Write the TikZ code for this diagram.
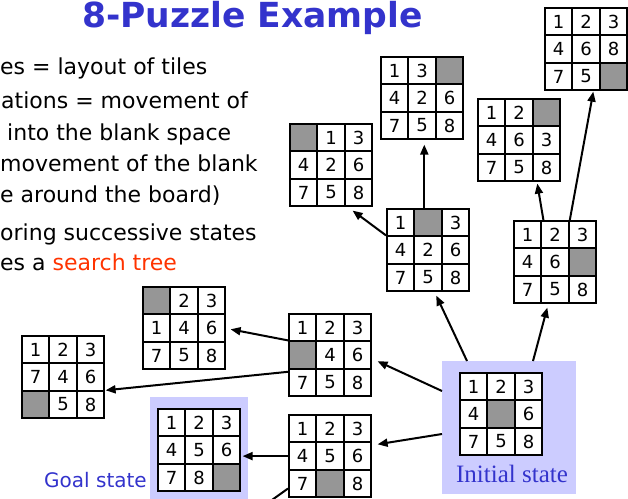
\documentclass[tikz,border=0pt]{standalone}
\usepackage{fontspec}
\usepackage{tikz}
\usetikzlibrary{arrows.meta, positioning, calc}
\newfontfamily\slidefont{DejaVu Sans}
\newfontfamily\serifslide{Liberation Serif}
\definecolor{titleblue}{RGB}{51, 51, 204}
\definecolor{lavender}{RGB}{204, 204, 255}
\definecolor{holegray}{RGB}{150, 150, 150}
\definecolor{searchred}{RGB}{255, 51, 0}

% one 3x3 board: name, top-left x, top-left y, nine tiles (0 = blank)
\newcommand\puzzle[4]{%
  \node[board, anchor=north west] (#1) at (#2,#3) {};
  \foreach \t [count=\k from 0] in {#4} {
    \pgfmathtruncatemacro\rw{\k/3}
    \pgfmathtruncatemacro\cl{mod(\k,3)}
    \ifnum\t=0
      \node[tile, fill=holegray] (#1-\k) at ($(#1.north west)+(\cl*27.4+13.7,\rw*27.4+13.7)$) {};
    \else
      \node[tile] (#1-\k) at ($(#1.north west)+(\cl*27.4+13.7,\rw*27.4+13.7)$) {\t};
    \fi
  }
}

\begin{document}
\begin{tikzpicture}[
    x=1pt, y=-1pt,
    board/.style={rectangle, minimum size=82.2pt, inner sep=0pt},
    tile/.style={rectangle, draw, line width=2pt, fill=white, minimum size=27.4pt, inner sep=0pt, font=\slidefont\fontsize{18}{20}\selectfont},
    hilite/.style={rectangle, fill=lavender, inner sep=0pt, anchor=north west},
    bullettext/.style={anchor=base west, inner sep=0pt, font=\slidefont\fontsize{22}{26}\selectfont},
    arrow/.style={-{Triangle[length=10pt, width=8pt]}, line width=2pt}
  ]
  \clip (0,0) rectangle (628,498);
  \useasboundingbox (0,0) rectangle (628,498);

  % title and text
  \node[anchor=base west, inner sep=0pt, text=titleblue, font=\slidefont\bfseries\fontsize{34.5}{40}\selectfont] (title) at (82,27) {8-Puzzle Example};
  \node[bullettext] (l1) at (0,74) {es = layout of tiles};
  \node[bullettext] (l2) at (1,108) {ations = movement of};
  \node[bullettext] (l3) at (7,140) {into the blank space};
  \node[bullettext] (l4) at (0,171) {movement of the blank};
  \node[bullettext] (l5) at (0,202) {e around the board)};
  \node[bullettext] (l6) at (0,240) {oring successive states};
  \node[bullettext] (l7) at (0,270) {es a \textcolor{searchred}{search tree}};

  % highlighted states
  \node[hilite, minimum width=98pt, minimum height=110pt] (goalbox) at (150,397) {};
  \node[hilite, minimum width=134pt, minimum height=133pt] (initbox) at (442,361) {};
  \node[anchor=base east, inner sep=0pt, text=titleblue, font=\slidefont\fontsize{20}{24}\selectfont] (goallbl) at (147,487) {Goal state};
  \node[anchor=base, inner sep=0pt, text=titleblue, font=\serifslide\fontsize{25}{28}\selectfont] (initlbl) at (512,482) {Initial state};

  % boards
  \puzzle{ini}{460}{373}{1,2,3,4,0,6,7,5,8}
  \puzzle{bU}{387}{209}{1,0,3,4,2,6,7,5,8}
  \puzzle{bUR}{381}{57}{1,3,0,4,2,6,7,5,8}
  \puzzle{bUL}{290}{124}{0,1,3,4,2,6,7,5,8}
  \puzzle{bR}{514}{221}{1,2,3,4,6,0,7,5,8}
  \puzzle{bRU}{478}{99}{1,2,0,4,6,3,7,5,8}
  \puzzle{bRD}{545}{8}{1,2,3,4,6,8,7,5,0}
  \puzzle{bL}{289}{314}{1,2,3,0,4,6,7,5,8}
  \puzzle{bLU}{143}{287}{0,2,3,1,4,6,7,5,8}
  \puzzle{bLD}{22}{336}{1,2,3,7,4,6,0,5,8}
  \puzzle{bD}{289}{415}{1,2,3,4,5,6,7,0,8}
  \puzzle{bDL}{158}{409}{1,2,3,4,5,6,7,8,0}

  \coordinate (off) at (258,510);

  % moves
  \draw[arrow] ([xshift=25pt]initbox.north west) -- ([xshift=8pt, yshift=-4pt]bU.south);
  \draw[arrow] ([xshift=91pt]initbox.north west) -- ([xshift=-8pt, yshift=-4pt]bR.south);
  \draw[arrow] ([yshift=-30pt]initbox.north west) -- ([xshift=6pt, yshift=-6pt]bL.east);
  \draw[arrow] ([yshift=-73pt]initbox.north west) -- ([xshift=6pt, yshift=12pt]bD.east);
  \draw[arrow] ([xshift=-4pt]bU.north) -- ([xshift=2pt, yshift=-5pt]bUR.south);
  \draw[arrow] (bU-3.north west) -- ([xshift=-20pt, yshift=-4pt]bUL.south east);
  \draw[arrow] ([xshift=3pt]bR-1.north west) -- ([xshift=18pt, yshift=-2pt]bRU.south);
  \draw[arrow] (bR-1.north east) -- ([xshift=7pt, yshift=-1pt]bRD.south);
  \draw[arrow] (bL-3.north west) -- ([xshift=5pt, yshift=-1pt]bLU.east);
  \draw[arrow] ([yshift=-4pt]bL-6.north west) -- ([xshift=1pt, yshift=-13pt]bLD.east);
  \draw[arrow] (bD-3.west) -- ([xshift=2pt]bD-3.west -| bDL.east);
  \draw[arrow] ([yshift=-5pt]bD-6.west) -- (off);
\end{tikzpicture}
\end{document}
